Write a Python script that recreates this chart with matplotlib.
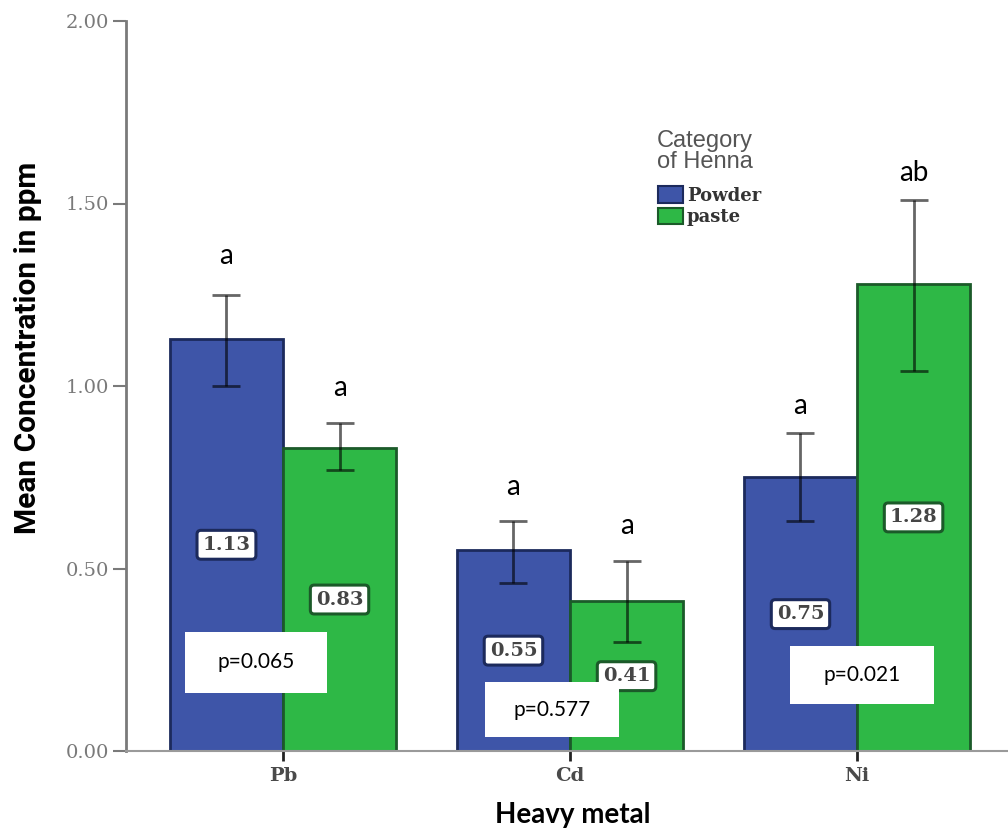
import matplotlib
matplotlib.use("Agg")
import matplotlib.pyplot as plt
import numpy as np
from matplotlib.patches import Patch, Rectangle

# ---- data ----
metals = ["Pb", "Cd", "Ni"]
series_names = ["Powder", "paste"]
powder_mean = [1.13, 0.55, 0.75]
paste_mean = [0.83, 0.41, 1.28]
powder_err_lo = [1.00, 0.46, 0.63]
powder_err_hi = [1.25, 0.63, 0.87]
paste_err_lo = [0.77, 0.30, 1.04]
paste_err_hi = [0.90, 0.52, 1.51]
powder_letters = ["a", "a", "a"]
paste_letters = ["a", "a", "ab"]
p_values = ["p=0.065", "p=0.577", "p=0.021"]
y_ticks = [0.0, 0.5, 1.0, 1.5, 2.0]

# ---- style ----
BLUE = "#3E55A8"
GREEN = "#2EB846"
BLUE_EDGE = "#1C2A5C"
GREEN_EDGE = "#1B5A29"
BAR_W = 0.394

# gap (points) between an error-bar cap and its letter
powder_letter_gap = [28, 24.5, 19.5]
paste_letter_gap = [25, 25, 19]

# p-value boxes: (x offset from group centre, y centre, width, height)
p_box_layout = [(-0.094, 0.2425, 0.494, 0.167),
                (-0.0625, 0.1135, 0.467, 0.151),
                (0.0175, 0.2085, 0.501, 0.159)]

fig = plt.figure(figsize=(10.08, 8.33), dpi=100)
ax = fig.add_axes([126 / 1008, 1 - 751 / 833, (1008 - 126) / 1008, (751 - 21) / 833])

x = np.arange(len(metals))
x_pow = x - BAR_W / 2
x_pas = x + BAR_W / 2

ax.bar(x_pow, powder_mean, width=BAR_W, color=BLUE, edgecolor=BLUE_EDGE,
       linewidth=2, zorder=2)
ax.bar(x_pas, paste_mean, width=BAR_W, color=GREEN, edgecolor=GREEN_EDGE,
       linewidth=2, zorder=2)

# error bars
for xs, means, lo, hi in [(x_pow, powder_mean, powder_err_lo, powder_err_hi),
                          (x_pas, paste_mean, paste_err_lo, paste_err_hi)]:
    m = np.array(means)
    yerr = np.vstack([m - np.array(lo), np.array(hi) - m])
    ax.errorbar(xs, m, yerr=yerr, fmt="none", ecolor=(0, 0, 0, 0.6),
                elinewidth=2, capsize=10, capthick=2, zorder=3)

# significance letters above the error bars
letter_font = dict(family=["Lato", "DejaVu Sans"], size=20, color="black")
for xs, hi, letters, gaps in [(x_pow, powder_err_hi, powder_letters, powder_letter_gap),
                              (x_pas, paste_err_hi, paste_letters, paste_letter_gap)]:
    for xi, h, lab, g in zip(xs, hi, letters, gaps):
        ax.annotate(lab, (xi, h), xytext=(0, g), textcoords="offset points",
                    ha="center", va="center", zorder=5, **letter_font)

# value labels in the middle of each bar
val_font = dict(family=["DejaVu Serif"], size=14, weight="bold", color="#454545")
for xs, means, edge in [(x_pow, powder_mean, BLUE_EDGE), (x_pas, paste_mean, GREEN_EDGE)]:
    for xi, m in zip(xs, means):
        ax.text(xi, m / 2, f"{m:.2f}", ha="center", va="center", zorder=4,
                bbox=dict(boxstyle="round,pad=0.28,rounding_size=0.2",
                          facecolor="white", edgecolor=edge, linewidth=2.2),
                **val_font)

# p-value boxes
p_font = dict(family=["Lato", "DejaVu Sans"], size=15, color="black")
for xi, txt, (dx, yc, w, h) in zip(x, p_values, p_box_layout):
    cx = xi + dx
    ax.add_patch(Rectangle((cx - w / 2, yc - h / 2), w, h, facecolor="white",
                           edgecolor="none", zorder=6))
    ax.text(cx, yc, txt, ha="center", va="center", zorder=7, **p_font)

# axes
ax.set_xlim(-0.547, 2.526)
ax.set_ylim(0, 2.0)
ax.set_yticks(y_ticks)
ax.set_yticklabels([f"{v:.2f}" for v in y_ticks], family="DejaVu Serif",
                   fontsize=14, color="#7a7a7a")
ax.set_xticks(x)
ax.set_xticklabels(metals, family="DejaVu Serif", fontsize=14, weight="bold",
                   color="#4a4a4a")
ax.tick_params(axis="y", length=9.5, width=1.5, color="#7a7a7a", pad=3)
ax.tick_params(axis="x", length=7.5, width=2, color="#222222", pad=4)
for s in ["top", "right"]:
    ax.spines[s].set_visible(False)
ax.spines["left"].set_color("#7a7a7a")
ax.spines["left"].set_linewidth(2)
ax.spines["bottom"].set_color("#9a9a9a")
ax.spines["bottom"].set_linewidth(1.5)

# axis titles
fig.text(28 / 1008, 1 - 348 / 833, "Mean Concentration in ppm", rotation=90,
         ha="center", va="center", fontsize=21.5, weight="bold",
         family=["Roboto", "Liberation Sans", "DejaVu Sans"], color="black")
fig.text(573 / 1008, 1 - 815 / 833, "Heavy metal", ha="center", va="center",
         fontsize=20, weight="bold", family=["Lato", "DejaVu Sans"], color="black")

# legend: title drawn as its own text, entries below it
fig.text(657 / 1008, 1 - 130 / 833, "Category\nof Henna", ha="left", va="top",
         fontsize=17, family=["Liberation Sans", "DejaVu Sans"], color="#555555",
         linespacing=0.95)
handles = [Patch(facecolor=BLUE, edgecolor=BLUE_EDGE, linewidth=1.5),
           Patch(facecolor=GREEN, edgecolor=GREEN_EDGE, linewidth=1.5)]
leg = fig.legend(handles, series_names, loc="upper left",
                 bbox_to_anchor=(658 / 1008, 1 - 186 / 833), frameon=False,
                 borderpad=0, borderaxespad=0,
                 prop=dict(family="DejaVu Serif", size=13, weight="bold"),
                 handlelength=1.39, handleheight=1.05, handletextpad=0.22,
                 labelspacing=0.17)
for t in leg.get_texts():
    t.set_color("#333333")

fig.savefig("out.png", dpi=100)
